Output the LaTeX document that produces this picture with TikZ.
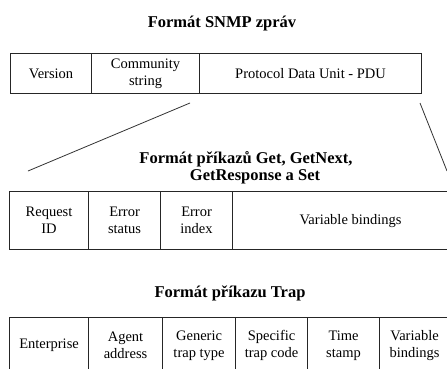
\documentclass[tikz,border=0pt]{standalone}
\usepackage{fontspec}
\setmainfont{Liberation Serif}
\begin{document}
\begin{tikzpicture}[x=1pt,y=-1pt,
  cell/.style={draw=black!85, line width=1.1pt, inner sep=0pt, align=center,
    font=\fontsize{14.5}{17}\selectfont, anchor=north west},
  ttl/.style={font=\fontsize{16.5}{19}\selectfont\bfseries, inner sep=0pt, anchor=base},
  link/.style={draw=black!80, line width=0.8pt}]
\useasboundingbox[fill=white] (0,0) rectangle (447,369);
% titles
\node[ttl] (t1) at (222,28) {Formát SNMP zpráv};
\node[ttl] (t2a) at (246,163) {Formát příkazů Get, GetNext,};
\node[ttl] (t2b) at (255,180) {GetResponse a Set};
\node[ttl] (t3) at (230,297) {Formát příkazu Trap};
% top table
\node[cell, minimum width=81pt, minimum height=40pt] (ver) at (10,53) {Version};
\node[cell, minimum width=108pt, minimum height=40pt] (com) at (91,53) {Community\\string};
\node[cell, minimum width=222pt, minimum height=40pt] (pdu) at (199,53) {Protocol Data Unit - PDU};
% middle table
\node[cell, minimum width=79pt, minimum height=58pt] (rid) at (9,191) {Request\\ID};
\node[cell, minimum width=72pt, minimum height=58pt] (est) at (88,191) {Error\\status};
\node[cell, minimum width=72pt, minimum height=58pt] (eix) at (160,191) {Error\\index};
\node[cell, minimum width=236pt, minimum height=58pt] (vb1) at (232,191) {Variable bindings};
% bottom table
\node[cell, minimum width=79pt, minimum height=56pt] (ent) at (9,317) {Enterprise};
\node[cell, minimum width=74pt, minimum height=56pt] (aga) at (88,317) {Agent\\address};
\node[cell, minimum width=73pt, minimum height=56pt] (gtt) at (162,317) {Generic\\trap type};
\node[cell, minimum width=72pt, minimum height=56pt] (stc) at (235,317) {Specific\\trap code};
\node[cell, minimum width=72pt, minimum height=56pt] (tst) at (307,317) {Time\\stamp};
\node[cell, minimum width=70pt, minimum height=56pt] (vb2) at (379,317) {Variable\\bindings};
% expansion lines
\coordinate (la) at (190,103);
\coordinate (lb) at (28,171);
\coordinate (ra) at (420,103);
\coordinate (rb) at (447,171);
\draw[link] (la) -- (lb);
\draw[link] (ra) -- (rb);
\end{tikzpicture}
\end{document}
